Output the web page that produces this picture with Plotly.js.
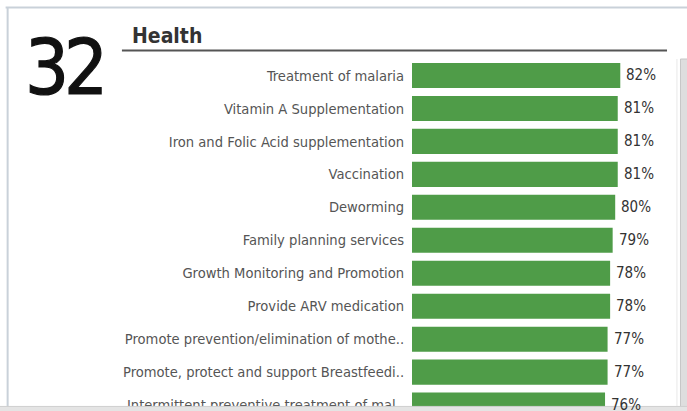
<!DOCTYPE html>
<html>
<head>
<meta charset="utf-8">
<script src="https://cdn.plot.ly/plotly-3.0.1.min.js"></script>
<style>
html,body{margin:0;padding:0;background:#fff;}
#chart{width:687px;height:411px;}
</style>
</head>
<body>
<div id="chart"></div>
<script>
const categories = [
  "Treatment of malaria",
  "Vitamin A Supplementation",
  "Iron and Folic Acid supplementation",
  "Vaccination",
  "Deworming",
  "Family planning services",
  "Growth Monitoring and Promotion",
  "Provide ARV medication",
  "Promote prevention/elimination of mothe..",
  "Promote, protect and support Breastfeedi..",
  "Intermittent preventive treatment of mal.."
];
const values = [82, 81, 81, 81, 80, 79, 78, 78, 77, 77, 76];
const valueLabels = values.map(v => v + "%");
const bigNumber = "32";
const sectionTitle = "Health";

const labelFont = "'DejaVu Sans Condensed', 'DejaVu Sans', sans-serif";

const trace = {
  type: "bar",
  orientation: "h",
  y: categories,
  x: values,
  marker: {color: "#4f9c48"},
  width: 0.76,
  hoverinfo: "none"
};

const valueAnnotations = categories.map((c, i) => ({
  x: values[i], y: c, xref: "x", yref: "y",
  text: valueLabels[i], showarrow: false,
  xanchor: "left", yanchor: "middle", xshift: 4,
  font: {family: labelFont, size: 15, color: "#333333"}
}));

const layout = {
  width: 687,
  height: 411,
  margin: {l: 412, r: 21, t: 58.5, b: 0, pad: 0},
  paper_bgcolor: "#ffffff",
  plot_bgcolor: "#ffffff",
  showlegend: false,
  xaxis: {
    range: [0, 100],
    visible: false,
    fixedrange: true
  },
  yaxis: {
    type: "category",
    range: [10.18, -0.5],
    showgrid: false,
    zeroline: false,
    showline: false,
    ticks: "outside",
    ticklen: 4,
    tickcolor: "rgba(0,0,0,0)",
    tickfont: {family: labelFont, size: 14.6, color: "#555555"},
    fixedrange: true
  },
  shapes: [
    {type: "line", xref: "paper", yref: "paper", x0: -1.6, x1: 1.1, y0: 1.146, y1: 1.146,
     line: {color: "#c9d1d9", width: 2}},
    {type: "line", xref: "paper", yref: "paper", x0: -1.592, x1: -1.592, y0: -0.02, y1: 1.146,
     line: {color: "#c9d1d9", width: 2}},
    {type: "line", xref: "paper", yref: "paper", x0: -1.142, x1: 1.004, y0: 1.024, y1: 1.024,
     line: {color: "#555555", width: 2}},
    {type: "line", xref: "paper", yref: "paper", x0: 1.043, x1: 1.043, y0: 0, y1: 1,
     line: {color: "#e8e8e8", width: 1}},
    {type: "rect", xref: "paper", yref: "paper", x0: 1.057, x1: 1.12, y0: 0.0, y1: 1.0,
     fillcolor: "#dedede", line: {color: "#c6c6c6", width: 1}},
    {type: "rect", xref: "paper", yref: "paper", x0: -1.7, x1: 1.12, y0: -0.01, y1: 0.013,
     fillcolor: "#e4e4e4", line: {width: 0}},
    {type: "line", xref: "paper", yref: "paper", x0: -1.7, x1: 1.12, y0: 0.013, y1: 0.013,
     line: {color: "#cfcfcf", width: 1}}
  ],
  annotations: [
    {text: bigNumber, xref: "paper", yref: "paper", x: -1.551, y: 1.109, xanchor: "left", yanchor: "top",
     showarrow: false, font: {family: "'DejaVu Sans Condensed', sans-serif", size: 77, color: "#111111"}},
    {text: "<b>" + sectionTitle + "</b>", xref: "paper", yref: "paper", x: -1.11, y: 1.064, xanchor: "left", yanchor: "middle",
     showarrow: false, font: {family: labelFont, size: 21, color: "#333333"}}
  ].concat(valueAnnotations)
};

Plotly.newPlot("chart", [trace], layout, {displayModeBar: false, staticPlot: true}).then(() => {
  const t = document.querySelector('#chart .annotation text');
  if (t) { t.style.letterSpacing = '-5px'; t.style.stroke = '#111111'; t.style.strokeWidth = '1.2px'; }
});
</script>
</body>
</html>
